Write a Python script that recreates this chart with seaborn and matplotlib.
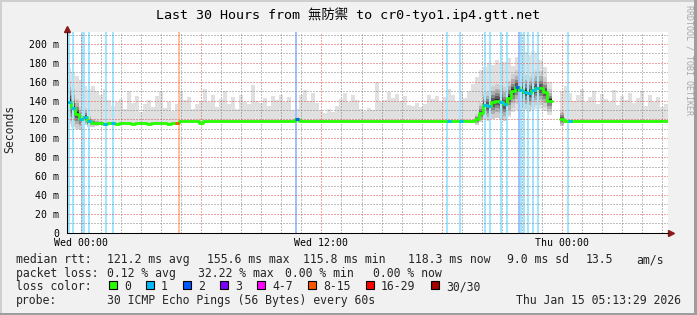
import numpy as np
import pandas as pd
import matplotlib
matplotlib.use("Agg")
import matplotlib.pyplot as plt
import matplotlib.dates as mdates
import matplotlib.ticker as mticker
from matplotlib.patches import Rectangle
from matplotlib.colors import to_rgb
import seaborn as sns

# ------------------------------------------------------------------ data
title_text = "Last 30 Hours from 無防禦 to cr0-tyo1.ip4.gtt.net"
start_time = "2026-01-13 23:17"
bin_minutes = 12          # one value per 12-minute bin, 150 bins = 30 h

nan = float("nan")

median_ms = [
    139, 132, 126, 121, 123, 118, 116.5, 116, 116, 115.5, 116, 116, 115.5, 116, 116, 116, 115.5, 116, 116, 116, 115.5, 116, 116, 116, 116,
    115.5, 116, 116, 118.5, 118.5, 118.5, 118, 118, 116, 118.5, 118.5, 118, 118, 118, 118, 118, 118, 118, 118, 118, 118, 118, 118, 118, 118,
    118, 118, 118, 118, 118, 118, 118, 120.5, 118, 118, 118, 118, 118, 118, 118, 118, 118, 118, 118, 118, 118, 118, 118, 118, 118,
    118, 118, 118, 118, 118, 118, 118, 118, 118, 118, 118, 118, 118, 118, 118, 118, 118, 118, 118, 118, 118, 118, 118, 118, 118,
    118, 118, 120, 127, 135, 134, 138, 140, 139, 136, 143, 150, 154, 151, 149, 148, 151, 153, 153, 149, 140, nan, nan, 121, 118,
    118, 118, 118, 118, 118, 118, 118, 118, 118, 118, 118, 118, 118, 118, 118, 118, 118, 118, 118, 118, 118, 118, 118, 118, 118,
]

ping_max_ms = [
    175, 170, 166, 162, 156, 152, 156, 150, 146, 152, 141, 134, 139, 142, 131, 150, 137, 145, 128, 136, 141, 133, 145, 150, 132,
    138, 129, 136, 150, 141, 144, 131, 136, 140, 152, 138, 146, 133, 142, 150, 136, 144, 131, 146, 139, 136, 157, 140, 137, 143,
    134, 145, 141, 146, 138, 144, 130, 131, 146, 151, 140, 148, 137, 129, 127, 131, 128, 134, 142, 148, 139, 146, 141, 131, 129,
    132, 130, 160, 139, 141, 149, 143, 147, 140, 145, 135, 134, 137, 133, 136, 146, 142, 145, 139, 144, 152, 146, 140, 149, 143,
    150, 158, 165, 172, 176, 180, 178, 183, 179, 181, 185, 177, 186, 190, 192, 188, 193, 190, 183, 176, 160, nan, nan, 150, 156,
    148, 140, 146, 152, 138, 144, 150, 136, 147, 142, 139, 151, 135, 145, 141, 148, 137, 143, 150, 134, 146, 139, 144, 133, 136,
]

ping_min_ms = [
    115, 114, 114, 114, 114, 115, 115, 115, 115, 115, 115, 115, 115, 115, 115, 115, 115, 115, 115, 115, 115, 115, 115, 115, 115,
    115, 115, 115, 117, 117, 117, 117, 117, 115, 117, 117, 117, 117, 117, 117, 117, 117, 117, 117, 117, 117, 117, 117, 117, 117,
    117, 117, 117, 117, 117, 117, 117, 117, 117, 117, 117, 117, 117, 117, 117, 117, 117, 117, 117, 117, 117, 117, 117, 117, 117,
    117, 117, 117, 117, 117, 117, 117, 117, 117, 117, 117, 117, 117, 117, 117, 117, 117, 117, 117, 117, 117, 117, 117, 117, 117,
    117, 117, 117, 118, 119, 120, 121, 122, 122, 121, 123, 128, 130, 131, 130, 128, 130, 131, 131, 129, 125, nan, nan, 116, 117,
    117, 117, 117, 117, 117, 117, 117, 117, 117, 117, 117, 117, 117, 117, 117, 117, 117, 117, 117, 117, 117, 117, 117, 117, 117,
]

# half-width of the dark part of the smoke around the median
smoke_spread_ms = [
    22, 20, 16, 12, 9, 6, 4, 3, 2, 1, 1, 0, 0, 0, 0, 0, 0, 0, 0, 0, 0, 0, 0, 0, 0,
    0, 0, 0, 0, 0, 0, 0, 0, 0, 0, 0, 0, 0, 0, 0, 0, 0, 0, 0, 0, 0, 0, 0, 0, 0,
    0, 0, 0, 0, 0, 0, 0, 2, 0, 0, 0, 0, 0, 0, 0, 0, 0, 0, 0, 0, 0, 0, 0, 0, 0,
    0, 0, 0, 0, 0, 0, 0, 0, 0, 0, 0, 0, 0, 0, 0, 0, 0, 0, 0, 0, 0, 0, 0, 0, 0,
    0, 0, 6, 10, 14, 16, 17, 18, 18, 18, 18, 18, 18, 18, 18, 18, 18, 18, 18, 16, 12, nan, nan, 8, 2,
    0, 0, 0, 0, 0, 0, 0, 0, 0, 0, 0, 0, 0, 0, 0, 0, 0, 0, 0, 0, 0, 0, 0, 0, 0,
]

# packet-loss events: hours after start, lost pings (of 30)
loss_hours = [0.13, 0.29, 0.77, 0.87, 1.13, 1.98, 2.30, 5.59, 11.44, 19.00, 19.63,
              20.88, 21.13, 21.68, 21.97, 22.59, 22.69, 22.84, 23.04, 23.28, 23.52, 25.03]
loss_counts = [1, 1, 1, 1, 1, 1, 1, 10, 2, 1, 1,
               1, 1, 1, 1, 2, 1, 1, 1, 1, 1, 1]

loss_labels = ["0", "1", "2", "3", "4-7", "8-15", "16-29", "30/30"]
loss_upper = [0, 1, 2, 3, 7, 15, 29, 30]
loss_colors = ["#26ff00", "#00b8ff", "#0059ff", "#7e00ff", "#ff00ff", "#ff5500", "#ff0000", "#a10000"]

y_ticks_ms = [0, 20, 40, 60, 80, 100, 120, 140, 160, 180, 200]

rtt_label = "median rtt:"
rtt_stats = ["121.2 ms avg", "155.6 ms max", "115.8 ms min", "118.3 ms now", "9.0 ms sd", "13.5", "am/s"]
pl_label = "packet loss:"
pl_stats = ["0.12 % avg", "32.22 % max", "0.00 % min", "0.00 % now"]
lc_label = "loss color:"
probe_label = "probe:"
probe_text = "30 ICMP Echo Pings (56 Bytes) every 60s"
timestamp_text = "Thu Jan 15 05:13:29 2026"
watermark_text = "RRDTOOL / TOBI OETIKER"

# ------------------------------------------------------------------ layout
W, H, DPI = 697, 315, 100
rtt_x_px = [107, 207, 303, 408, 507, 586, 636]
pl_x_px = [107, 198, 285, 373]
row_y_px = [263.3, 277.0, 290.5, 304.2]
LEG = 8.3
AXF = 7.1

sns.set_theme(style="white")
plt.rcParams["font.family"] = ["DejaVu Sans Mono", "Noto Sans CJK TC"]
plt.rcParams["axes.unicode_minus"] = False


def fx(px):
    return px / W


def fy(py):
    return 1 - py / H


def lighten(c, a):
    return tuple(np.array(to_rgb(c)) * a + (1 - a))


def loss_class(cnt):
    for k, up in enumerate(loss_upper):
        if cnt <= up:
            return k
    return len(loss_upper) - 1


fig = plt.figure(figsize=(W / DPI, H / DPI), dpi=DPI, facecolor="#f1f1f1")
ax = fig.add_axes([fx(66.7), fy(232.7), fx(667.7) - fx(66.7), fy(32.3) - fy(232.7)])
ax.set_facecolor("white")

n = len(median_ms)
start = pd.Timestamp(start_time)
edges = (start + pd.to_timedelta(np.arange(n + 1) * bin_minutes, unit="min")).values
tt = np.empty(2 * n, dtype="datetime64[ns]")
tt[0::2] = edges[:-1]
tt[1::2] = edges[1:]


def stepped(v):
    return np.repeat(np.asarray(v, float), 2)


med = stepped(median_ms)
lo = stepped(ping_min_ms)
hi = stepped(ping_max_ms)
spr = stepped(smoke_spread_ms)

# smoke
ax.fill_between(tt, lo, hi, color="#e0e0e0", lw=0, zorder=1)
has = np.nan_to_num(spr) > 0
for frac, col in [(1.0, "#cecece"), (0.7, "#b0b0b0"), (0.45, "#888888"),
                  (0.25, "#5a5a5a"), (0.1, "#262626")]:
    ax.fill_between(tt, med - spr * frac, med + spr * frac, where=has, color=col, lw=0, zorder=1.5)

# loss stripes
for h, c in zip(loss_hours, loss_counts):
    t = start + pd.Timedelta(hours=h)
    col = lighten(loss_colors[loss_class(c)], 0.37)
    ax.axvspan(t - pd.Timedelta(minutes=3), t + pd.Timedelta(minutes=3), color=col, lw=0, zorder=2)

# median line in contiguous runs
valid = ~np.isnan(med)
run_start = None
for i in range(len(med) + 1):
    ok = i < len(med) and valid[i]
    if ok and run_start is None:
        run_start = i
    elif not ok and run_start is not None:
        sl = slice(run_start, i)
        sns.lineplot(x=tt[sl], y=med[sl], ax=ax, color=loss_colors[0], lw=2.0,
                     estimator=None, sort=False, legend=False, zorder=3)
        run_start = None

for h, c in zip(loss_hours, loss_counts):
    b = int(h * 60 // bin_minutes)
    if b < n and not np.isnan(median_ms[b]):
        ax.plot([edges[b], edges[b + 1]], [median_ms[b], median_ms[b]],
                color=loss_colors[loss_class(c)], lw=2.0, solid_capstyle="butt", zorder=3.2)

# axes
ax.set_xlim(edges[0], edges[-1])
ax.set_ylim(0, 212.4)
ax.xaxis.set_major_locator(mdates.HourLocator(byhour=[0, 6, 12, 18]))
ax.xaxis.set_minor_locator(mdates.HourLocator())


def xfmt(v, pos):
    d = mdates.num2date(v)
    return d.strftime("%a %H:%M") if d.hour in (0, 12) else ""


ax.xaxis.set_major_formatter(mticker.FuncFormatter(xfmt))
ax.yaxis.set_major_locator(mticker.FixedLocator(y_ticks_ms))
ax.yaxis.set_minor_locator(mticker.MultipleLocator(10))
ax.yaxis.set_major_formatter(mticker.FuncFormatter(lambda v, p: "0" if v == 0 else f"{v:.0f} m"))

major_c = (0.86, 0.3, 0.3, 0.42)
minor_c = (0.5, 0.5, 0.5, 0.32)
ax.set_axisbelow(False)
ax.grid(which="major", color=major_c, ls=(0, (1, 2)), lw=0.72)
ax.grid(which="minor", color=minor_c, ls=(0, (1, 2)), lw=0.72)
ax.tick_params(which="major", length=2, width=0.72, color=major_c, labelsize=AXF, pad=1.8, labelcolor="black")
ax.tick_params(which="minor", length=2, width=0.72, color=minor_c)
ax.tick_params(axis="y", which="major", pad=3.5)
for s in ["top", "right"]:
    ax.spines[s].set_visible(False)
for s in ["left", "bottom"]:
    ax.spines[s].set_color("black")
    ax.spines[s].set_linewidth(0.75)
    ax.spines[s].set_zorder(5)
ax.set_xlabel("")
ax.set_ylabel("")

# axis arrows
ax.plot([1.0, 1.006], [0, 0], color="black", lw=0.75, transform=ax.transAxes, clip_on=False)
ax.plot([1.006], [0], marker=">", ms=4.2, color="#8b1a1a", mec="#8b1a1a", transform=ax.transAxes, clip_on=False)
ax.plot([0, 0], [1.0, 1.015], color="black", lw=0.75, transform=ax.transAxes, clip_on=False)
ax.plot([0], [1.017], marker="^", ms=4.2, color="#8b1a1a", mec="#8b1a1a", transform=ax.transAxes, clip_on=False)

# texts
fig.text(fx(348.5), fy(19.5), title_text, ha="center", va="baseline", fontsize=9.6, color="black")
fig.text(fx(10), fy(129), "Seconds", rotation=90, ha="center", va="center", fontsize=LEG)
fig.text(fx(688.5), fy(5), watermark_text, rotation=270, ha="center", va="top", fontsize=6.0, color="#a8a8a8")

fig.text(fx(16), fy(row_y_px[0]), rtt_label, fontsize=LEG, va="baseline")
for s, x in zip(rtt_stats, rtt_x_px):
    fig.text(fx(x), fy(row_y_px[0]), s, fontsize=LEG, va="baseline")
fig.text(fx(16), fy(row_y_px[1]), pl_label, fontsize=LEG, va="baseline")
for s, x in zip(pl_stats, pl_x_px):
    fig.text(fx(x), fy(row_y_px[1]), s, fontsize=LEG, va="baseline")

fig.text(fx(16), fy(row_y_px[2]), lc_label, fontsize=LEG, va="baseline")
bx = 109.0
for lab, col in zip(loss_labels, loss_colors):
    fig.add_artist(Rectangle((fx(bx), fy(288.7)), fx(7.6), fy(281.3) - fy(288.7),
                             transform=fig.transFigure, facecolor=col, edgecolor="black", lw=0.8))
    fig.text(fx(bx + 15), fy(row_y_px[2]), lab, fontsize=LEG, va="baseline")
    bx += 15 + 7 * len(lab) + 15

fig.text(fx(16), fy(row_y_px[3]), probe_label, fontsize=LEG, va="baseline")
fig.text(fx(107), fy(row_y_px[3]), probe_text, fontsize=LEG, va="baseline")
fig.text(fx(681), fy(row_y_px[3]), timestamp_text, fontsize=LEG, va="baseline", ha="right")

# frame shading
fig.add_artist(Rectangle((0, fy(2)), 1, 2 / H, transform=fig.transFigure, color="#cfcfcf", lw=0))
fig.add_artist(Rectangle((0, 0), 2 / W, 1, transform=fig.transFigure, color="#cfcfcf", lw=0))
fig.add_artist(Rectangle((0, 0), 1, 2 / H, transform=fig.transFigure, color="#9e9e9e", lw=0))
fig.add_artist(Rectangle((1 - 3 / W, 0), 3 / W, 1, transform=fig.transFigure, color="#9e9e9e", lw=0))

fig.savefig("out.png", dpi=DPI, facecolor=fig.get_facecolor())
